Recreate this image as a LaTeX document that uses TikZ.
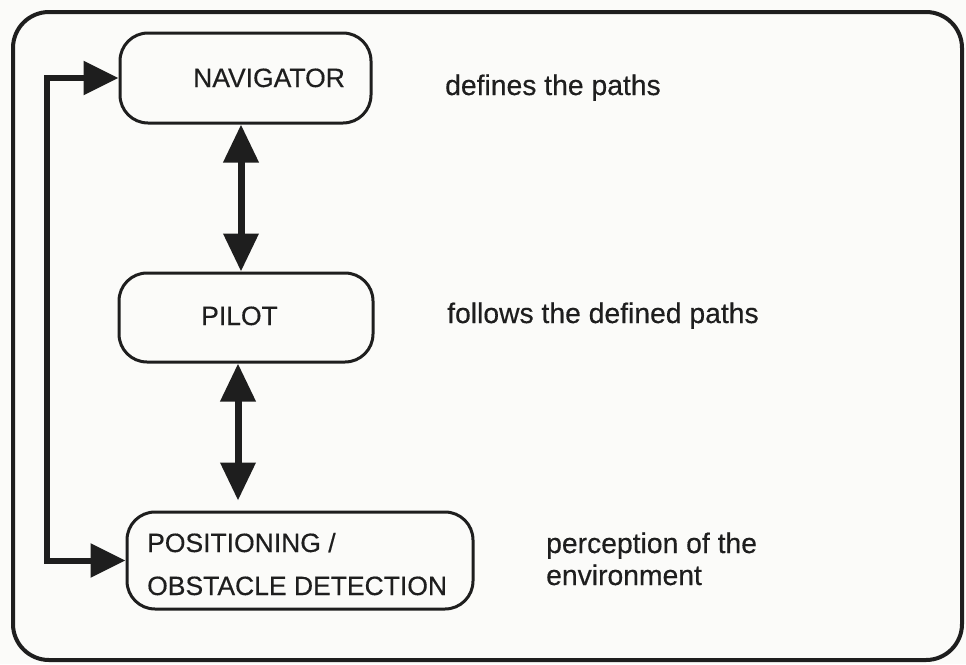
\documentclass[tikz,border=0pt]{standalone}
\usepackage{fontspec}
\setmainfont{Liberation Sans}
\newfontfamily\scanfont{Liberation Sans}[FakeBold=0.4]
\usetikzlibrary{arrows.meta}
\definecolor{ink}{HTML}{1E1E1E}
\definecolor{paper}{HTML}{FBFBF9}
\begin{document}
\begin{tikzpicture}[x=1pt,y=-1pt,
  box/.style={draw=ink,line width=3pt,rounded corners=28pt,inner sep=0pt},
  caps/.style={font=\scanfont\fontsize{26.5}{30}\selectfont,text=ink,inner sep=0pt,anchor=base west},
  lower/.style={font=\scanfont\fontsize{28.3}{30}\selectfont,text=ink,inner sep=0pt,anchor=base west},
  bigarrow/.style={draw=ink,line width=7pt,{Triangle[length=38pt,width=34pt]}-{Triangle[length=38pt,width=34pt]}},
  fbarrow/.style={draw=ink,line width=6pt,{Triangle[length=35pt,width=33pt]}-{Triangle[length=35pt,width=33pt]}}]
\fill[paper] (0,0) rectangle (966,664);
\useasboundingbox (0,0) rectangle (966,664);
% outer frame
\draw[ink,line width=4pt,rounded corners=36pt] (13,12) rectangle (962,660);
% boxes
\node[box,minimum width=251pt,minimum height=90pt] (nav) at (245.5,78) {};
\node[box,minimum width=254pt,minimum height=89pt] (pilot) at (246,317.5) {};
\node[box,minimum width=346pt,minimum height=97pt] (pos) at (300,560.5) {};
% box texts
\node[caps] (navt) at (193,87) {NAVIGATOR};
\node[caps] (pilt) at (201,325) {PILOT};
\node[caps] (post1) at (147,552) {POSITIONING /};
\node[caps] (post2) at (147,595) {OBSTACLE DETECTION};
% descriptions
\node[lower] (d1) at (445,95) {defines the paths};
\node[lower] (d2) at (447,323) {follows the defined paths};
\node[lower] (d3) at (546,553) {perception of the};
\node[lower] (d4) at (546,585) {environment};
% connectors
\coordinate (c1) at (241,0);
\coordinate (c2) at (238,0);
\coordinate (fbx) at (47,320);
\draw[bigarrow] (nav.south -| c1) -- (pilot.north -| c1);
\draw[bigarrow,shorten >=10pt] (pilot.south -| c2) -- (pos.north -| c2);
\draw[fbarrow] (nav.west) -| (fbx) |- (pos.west);
\end{tikzpicture}
\end{document}
